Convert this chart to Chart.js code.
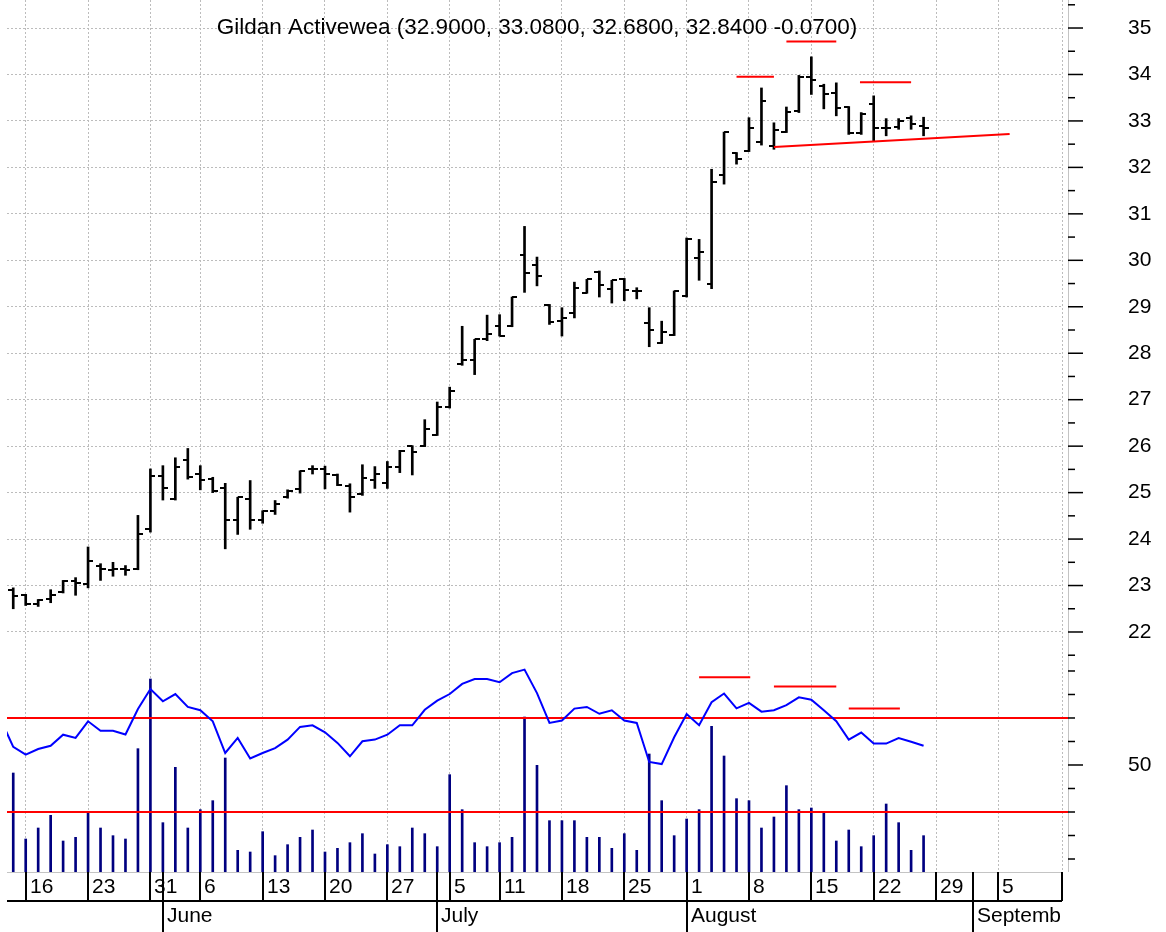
<!DOCTYPE html>
<html>
<head>
<meta charset="utf-8">
<script src="https://cdn.jsdelivr.net/npm/chart.js@4.4.1/dist/chart.umd.min.js"></script>
<style>
  html, body { margin: 0; padding: 0; background: #fff; }
  canvas { display: block; }
</style>
</head>
<body>
<canvas id="chart" width="1166" height="932"></canvas>
<script>
// daily bars, May 13 .. Aug 26 (trading day index 0..73)
const opens = [22.90,22.79,22.60,22.70,22.86,23.10,23.04,23.43,23.34,23.35,23.36,24.22,25.35,24.87,25.70,25.40,25.30,25.10,24.40,24.86,24.40,24.60,24.90,25.08,25.50,25.50,25.38,25.15,24.97,25.27,25.20,25.55,26.00,26.00,26.25,26.85,27.76,27.85,28.30,28.58,28.58,30.12,29.90,29.03,28.69,28.87,29.30,29.75,29.39,29.60,29.33,28.65,28.22,28.40,29.24,30.05,29.50,31.84,32.30,32.36,32.54,32.45,32.76,33.21,33.95,33.75,33.60,33.29,32.74,33.36,32.84,32.86,33.07,32.90];
const highs = [22.95,22.81,22.70,22.91,23.11,23.17,23.83,23.47,23.50,23.43,24.51,25.51,25.58,25.75,25.95,25.58,25.33,25.20,24.90,25.26,24.61,24.83,25.06,25.47,25.58,25.57,25.40,25.19,25.60,25.56,25.67,25.91,26.01,26.57,26.95,27.27,28.58,28.30,28.82,28.83,29.21,30.73,30.07,29.05,28.98,29.53,29.59,29.77,29.57,29.61,29.41,28.98,28.69,29.34,30.48,30.45,31.96,32.76,32.32,33.07,33.71,32.96,33.30,33.98,34.38,33.79,33.82,33.31,33.18,33.54,33.05,33.05,33.11,33.08];
const lows = [22.50,22.57,22.55,22.63,22.84,22.79,22.95,23.11,23.20,23.22,23.34,24.15,24.84,24.84,25.29,25.06,25.00,23.79,24.10,24.21,24.34,24.53,24.88,24.99,25.40,25.08,25.15,24.58,24.94,25.09,25.09,25.43,25.38,25.99,26.23,26.82,27.74,27.54,28.27,28.37,28.57,29.31,29.45,28.62,28.37,28.76,29.29,29.21,29.08,29.13,29.17,28.14,28.21,28.38,29.21,29.57,29.39,31.64,32.07,32.34,32.48,32.39,32.75,33.18,33.57,33.26,33.11,32.71,32.71,32.57,32.68,32.82,32.82,32.68];
const closes = [22.77,22.61,22.68,22.80,23.10,23.05,23.52,23.36,23.35,23.34,24.11,25.35,25.10,25.55,25.33,25.28,25.04,24.40,24.90,24.40,24.60,24.76,25.03,25.46,25.50,25.39,25.17,24.90,25.31,25.40,25.56,25.90,25.88,26.36,26.85,27.18,27.85,28.30,28.42,28.38,29.21,29.73,29.66,28.68,28.76,29.41,29.59,29.46,29.57,29.37,29.34,28.49,28.45,29.34,30.45,30.17,31.69,32.76,32.19,32.84,33.43,32.81,33.19,33.95,33.89,33.59,33.28,32.74,33.16,32.84,32.84,33.00,32.93,32.84];
const volume = [297,99,132,170,93,104,182,132,109,99,370,579,148,314,132,187,214,342,65,60,121,49,82,104,126,60,71,88,115,54,82,76,132,115,76,292,187,88,76,88,104,465,320,154,154,154,104,104,71,115,65,354,214,109,159,187,437,348,220,214,132,165,259,187,192,182,93,126,76,109,204,148,65,109];
// oscillator starts one day before the first bar
const rsiStart = -1;
const rsi = [69.3,57.7,54.4,56.8,58.2,62.9,61.5,68.6,64.6,64.6,63.0,73.8,82.3,77.1,80.2,74.7,73.3,68.6,55.1,61.5,52.8,55.1,57.2,60.8,66.2,66.9,63.9,59.4,53.7,60.1,60.8,62.9,66.9,66.9,73.5,77.4,80.2,84.5,86.6,86.6,85.2,89.1,90.6,80.6,67.9,68.9,74.0,74.7,71.8,73.3,68.9,67.9,51.3,50.4,61.8,71.7,66.9,76.7,80.4,74.1,76.4,72.7,73.3,75.5,78.8,77.8,73.3,68.6,60.8,63.8,59.1,59.1,61.5,59.9,58.2];
const rsiLevels = [70, 30];

const weekStarts = [1,6,11,15,20,25,30,35,39,44,49,54,59,64,69,74,79];
const weekLabels = ['16','23','31','6','13','20','27','5','11','18','25','1','8','15','22','29','5'];
const monthStarts = [12,34,54,77];
const monthLabels = ['June','July','August','September'];

// hand drawn marks: [fromDay, toDay, level]
const priceMarks = [[58.0,61.0,33.95],[62.0,66.0,34.71],[67.9,72.0,33.83]];
const supportLine = [[61.0,32.44],[79.9,32.72]];
const rsiMarks = [[55.0,59.1,87.3],[61.0,66.0,83.4],[67.0,71.1,74.0]];

const title = 'Gildan Activewea (32.9000, 33.0800, 32.6800, 32.8400 -0.0700)';

const X_MIN = -0.5, X_MAX = 84.1;
const FONT = "'Liberation Sans', Arial, sans-serif";
const GRID = '#bcbcbc';

function tickImage(side) {
    const c = document.createElement('canvas');
    c.width = 10; c.height = 2;
    const g = c.getContext('2d');
    g.fillStyle = '#000';
    g.fillRect(side === 'left' ? 0 : 5, 0, 5, 2);
    return c;
}

const datasets = [];

priceMarks.forEach(m => datasets.push({
    type: 'line', yAxisID: 'y', order: 0,
    data: [{x: m[0], y: m[2]}, {x: m[1], y: m[2]}],
    borderColor: '#ff0000', borderWidth: 2, pointRadius: 0
}));
datasets.push({
    type: 'line', yAxisID: 'y', order: 0,
    data: supportLine.map(p => ({x: p[0], y: p[1]})),
    borderColor: '#ff0000', borderWidth: 2, pointRadius: 0
});
rsiMarks.forEach(m => datasets.push({
    type: 'line', yAxisID: 'osc', order: 0,
    data: [{x: m[0], y: m[2]}, {x: m[1], y: m[2]}],
    borderColor: '#ff0000', borderWidth: 2, pointRadius: 0
}));

datasets.push({
    type: 'line', yAxisID: 'y', order: 1, showLine: false,
    data: opens.map((v, i) => ({x: i, y: v})),
    pointStyle: tickImage('left'), pointRadius: 3
});
datasets.push({
    type: 'line', yAxisID: 'y', order: 1, showLine: false,
    data: closes.map((v, i) => ({x: i, y: v})),
    pointStyle: tickImage('right'), pointRadius: 3
});
datasets.push({
    type: 'bar', yAxisID: 'y', order: 2, grouped: false,
    data: highs.map((h, i) => ({x: i, y: [lows[i], h]})),
    backgroundColor: '#000', barThickness: 2
});

datasets.push({
    type: 'line', yAxisID: 'osc', order: 3,
    data: rsi.map((v, k) => ({x: k + rsiStart, y: v})),
    borderColor: '#0000ff', borderWidth: 2, pointRadius: 0, tension: 0
});
rsiLevels.forEach(v => datasets.push({
    type: 'line', yAxisID: 'osc', order: 4,
    data: [{x: X_MIN, y: v}, {x: X_MAX + 0.5, y: v}],
    borderColor: '#ff0000', borderWidth: 2, pointRadius: 0,
    clip: {left: 0, top: 0, right: 6, bottom: 0}
}));
datasets.push({
    type: 'bar', yAxisID: 'yVol', order: 5, grouped: false,
    data: volume.map((v, i) => ({x: i, y: v})),
    backgroundColor: '#000080', barThickness: 2
});

const decor = {
    id: 'decor',
    afterDraw(chart) {
        const {ctx, chartArea: a, scales} = chart;
        const xs = scales.x, ys = scales.y, rs = scales.osc;
        const bottom = a.bottom;
        ctx.save();

        // axis spine and bottom border
        ctx.strokeStyle = '#c4c4c4';
        ctx.lineWidth = 1;
        ctx.beginPath();
        ctx.moveTo(a.right + 6.5, 0); ctx.lineTo(a.right + 6.5, bottom);
        ctx.moveTo(a.left, bottom + 0.5); ctx.lineTo(a.right, bottom + 0.5);
        ctx.stroke();

        // right-hand tick marks
        ctx.strokeStyle = '#000';
        ctx.lineWidth = 1.5;
        const tick = (y, major) => {
            ctx.beginPath();
            ctx.moveTo(a.right + 6, y);
            ctx.lineTo(a.right + (major ? 21 : 13), y);
            ctx.stroke();
        };
        for (let k = 43; k <= 71; k++) tick(ys.getPixelForValue(k / 2), k % 2 === 0);
        for (let v = 10; v <= 90; v += 10) tick(rs.getPixelForValue(v), v === 50);

        ctx.fillStyle = '#000';
        ctx.font = '21px ' + FONT;
        ctx.textAlign = 'left';
        ctx.textBaseline = 'middle';
        ctx.fillText('50', a.right + 66, rs.getPixelForValue(50));

        // date rows
        const row1 = bottom + 29, row2 = chart.height;
        ctx.lineWidth = 2;
        ctx.beginPath();
        ctx.moveTo(a.left, row1); ctx.lineTo(a.right, row1);
        weekStarts.forEach(w => {
            const x = Math.round(xs.getPixelForValue(w));
            ctx.moveTo(x, bottom); ctx.lineTo(x, row1);
        });
        ctx.moveTo(a.right, bottom); ctx.lineTo(a.right, row1);
        monthStarts.forEach(m => {
            const x = Math.round(xs.getPixelForValue(m));
            ctx.moveTo(x, bottom); ctx.lineTo(x, row2);
        });
        ctx.stroke();

        ctx.textBaseline = 'alphabetic';
        weekStarts.forEach((w, i) => {
            const x = Math.round(xs.getPixelForValue(w));
            ctx.fillText(weekLabels[i], x + 4, bottom + 21);
        });
        monthStarts.forEach((m, i) => {
            const x = Math.round(xs.getPixelForValue(m));
            const end = i + 1 < monthStarts.length ? xs.getPixelForValue(monthStarts[i + 1]) : a.right;
            let label = monthLabels[i];
            while (label.length > 1 && ctx.measureText(label).width > end - x - 3) label = label.slice(0, -1);
            ctx.fillText(label, x + 4, bottom + 50);
        });

        ctx.font = '22.5px ' + FONT;
        ctx.textAlign = 'center';
        ctx.fillText(title, 537, 34);
        ctx.restore();
    }
};

new Chart(document.getElementById('chart'), {
    type: 'line',
    data: { datasets: datasets },
    options: {
        responsive: false,
        animation: false,
        layout: { autoPadding: false, padding: { left: 7, top: 0, right: 0, bottom: 60 } },
        plugins: { legend: { display: false }, tooltip: { enabled: false } },
        scales: {
            x: {
                type: 'linear', min: X_MIN, max: X_MAX, offset: false,
                afterBuildTicks: s => { s.ticks = weekStarts.concat([X_MAX]).map(v => ({value: v})); },
                afterFit: s => { s.height = 0; s.paddingLeft = 0; s.paddingRight = 0; },
                ticks: { display: false },
                grid: { color: GRID, lineWidth: 1, drawTicks: false, offset: false },
                border: { display: false, dash: [2, 2] }
            },
            y: {
                position: 'right', min: 16.834, max: 35.603,
                afterBuildTicks: s => {
                    const t = [];
                    for (let k = 43; k <= 71; k++) t.push({value: k / 2});
                    s.ticks = t;
                },
                afterFit: s => { s.width = 104; s.paddingTop = 0; s.paddingBottom = 0; },
                ticks: {
                    autoSkip: false,
                    padding: 66,
                    color: '#000',
                    font: { family: FONT, size: 21 },
                    callback: v => (Number.isInteger(v) && v >= 22 && v <= 35) ? String(v) : null
                },
                grid: {
                    drawTicks: false, lineWidth: 1,
                    color: c => (c.tick && Number.isInteger(c.tick.value) && c.tick.value >= 22) ? GRID : 'rgba(0,0,0,0)'
                },
                border: { display: false, dash: [2, 2] }
            },
            osc: { axis: 'y', type: 'linear', position: 'right', display: false, min: 4.47, max: 375.5 },
            yVol: { axis: 'y', type: 'linear', position: 'right', display: false, min: 0, max: 2616 }
        }
    },
    plugins: [decor]
});
</script>
</body>
</html>
